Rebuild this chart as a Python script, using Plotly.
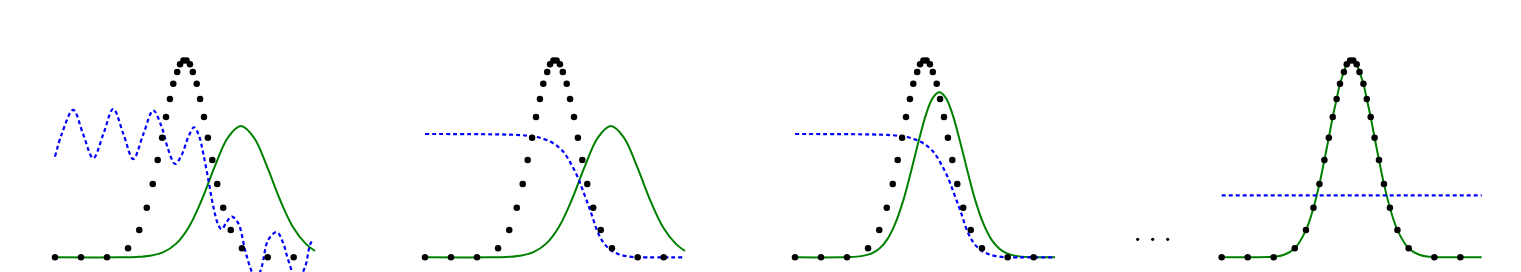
import plotly.graph_objects as go

# ---------------- data (x: 0..10 per panel, y: 0..1 target peak) ----------------
dot_x = [0, 1, 2, 2.81, 3.24, 3.53, 3.76, 3.95, 4.12, 4.27, 4.42, 4.55, 4.70, 4.81, 4.94,
         5.06, 5.19, 5.30, 5.45, 5.58, 5.73, 5.88, 6.05, 6.24, 6.47, 6.76, 7.19, 8.18, 9.18]
dot_y = [0, 0, 0, 0.046, 0.138, 0.251, 0.372, 0.493, 0.606, 0.711, 0.802, 0.880, 0.939, 0.978, 0.998,
         0.998, 0.978, 0.939, 0.880, 0.802, 0.711, 0.606, 0.493, 0.372, 0.251, 0.138, 0.046, 0, 0]

green_a_x = [0, 2.5, 3.15, 3.65, 4.15, 4.65, 5.15, 5.65, 6.15, 6.65, 7.15, 7.65, 8.15, 8.65, 9.15, 9.65, 10.0]
green_a_y = [0, 0.0, 0.002, 0.008, 0.025, 0.068, 0.154, 0.293, 0.462, 0.607, 0.665, 0.607, 0.462, 0.293, 0.154, 0.068, 0.032]

green_b_x = [0, 2.05, 2.55, 2.95, 3.25, 3.55, 3.85, 4.15, 4.45, 4.75, 5.05, 5.3, 5.55, 5.8, 6.05, 6.35,
             6.65, 6.95, 7.25, 7.55, 7.85, 8.15, 8.55, 9.05, 10]
green_b_y = [0, 0.001, 0.006, 0.020, 0.045, 0.091, 0.169, 0.282, 0.428, 0.586, 0.728, 0.808, 0.836, 0.808, 0.728, 0.586,
             0.428, 0.282, 0.169, 0.091, 0.045, 0.020, 0.006, 0.001, 0]

green_c_x = [0, 1, 2, 2.4, 2.81, 3.24, 3.53, 3.76, 3.95, 4.12, 4.27, 4.42, 4.55, 4.70, 4.81, 5.0,
             5.19, 5.30, 5.45, 5.58, 5.73, 5.88, 6.05, 6.24, 6.47, 6.76, 7.19, 7.6, 8.0, 9.0, 10.0]
green_c_y = [0, 0, 0.003, 0.013, 0.046, 0.138, 0.251, 0.372, 0.493, 0.606, 0.711, 0.802, 0.880, 0.939, 0.978, 1.0,
             0.978, 0.939, 0.880, 0.802, 0.711, 0.606, 0.493, 0.372, 0.251, 0.138, 0.046, 0.013, 0.003, 0, 0]

blue_wavy_x = [0, 0.26, 0.70, 1.08, 1.47, 1.86, 2.24, 2.63, 3.01, 3.40, 3.78, 4.10, 4.36, 4.62, 4.87, 5.13,
               5.35, 5.55, 5.70, 5.90, 6.09, 6.28, 6.41, 6.60, 6.80, 7.05, 7.31, 7.50, 7.73, 7.95, 8.20,
               8.53, 8.78, 8.97, 9.31, 9.62, 9.80, 9.93]
blue_wavy_y = [0.510, 0.625, 0.747, 0.625, 0.502, 0.625, 0.752, 0.625, 0.498, 0.625, 0.744, 0.662, 0.544, 0.473, 0.518, 0.611,
               0.659, 0.611, 0.527, 0.392, 0.256, 0.164, 0.142, 0.179, 0.206, 0.172, 0.037, -0.048, -0.115, -0.048, 0.088,
               0.128, 0.071, -0.014, -0.120, -0.048, 0.060, 0.095]

blue_step_x = [0, 3.4, 4.04, 4.42, 4.93, 5.32, 5.64, 5.90, 6.09, 6.28, 6.44, 6.62, 6.86, 7.14, 7.44, 7.88, 8.3, 10]
blue_step_y = [0.625, 0.621, 0.615, 0.606, 0.578, 0.535, 0.468, 0.398, 0.332, 0.265, 0.205, 0.135, 0.075, 0.037, 0.016, 0.003, 0, 0]

blue_flat_x = [0, 10]
blue_flat_y = [0.314, 0.314]

ellipsis_x = [-0.6, 0, 0.6]
ellipsis_y = [0.091, 0.091, 0.091]

# ---------------- layout constants ----------------
W, H = 1521, 272
XR = [-0.5, 10.5]
YR = [-0.0745, 1.304]
panel_left_px = [42, 412, 782, 1208.7]
panel_w_px = 286

GREEN = "#008000"
BLUE = "#0000ff"

panels = [
    (green_a_x, green_a_y, blue_wavy_x, blue_wavy_y),
    (green_a_x, green_a_y, blue_step_x, blue_step_y),
    (green_b_x, green_b_y, blue_step_x, blue_step_y),
    (green_c_x, green_c_y, blue_flat_x, blue_flat_y),
]

fig = go.Figure()
layout = dict(width=W, height=H, margin=dict(l=0, r=0, t=0, b=0),
              paper_bgcolor="white", plot_bgcolor="white", showlegend=False)

for i, (gx, gy, bx, by) in enumerate(panels):
    n = i + 1
    xa = "x" if n == 1 else f"x{n}"
    ya = "y" if n == 1 else f"y{n}"
    fig.add_trace(go.Scatter(x=gx, y=gy, mode="lines", xaxis=xa, yaxis=ya,
                             line=dict(color=GREEN, width=2, shape="spline", smoothing=1.0)))
    fig.add_trace(go.Scatter(x=bx, y=by, mode="lines", xaxis=xa, yaxis=ya,
                             line=dict(color=BLUE, width=2.2, dash="4px,3px", shape="spline", smoothing=1.0)))
    fig.add_trace(go.Scatter(x=dot_x, y=dot_y, mode="markers", xaxis=xa, yaxis=ya, cliponaxis=False,
                             marker=dict(color="black", size=6.5, line=dict(width=0))))
    d0 = panel_left_px[i] / W
    d1 = (panel_left_px[i] + panel_w_px) / W
    layout["xaxis" if n == 1 else f"xaxis{n}"] = dict(domain=[d0, d1], range=XR, visible=False,
                                                      anchor=ya)
    layout["yaxis" if n == 1 else f"yaxis{n}"] = dict(domain=[0, 1], range=YR, visible=False,
                                                      anchor=xa)

# ellipsis between panel 3 and 4
fig.add_trace(go.Scatter(x=ellipsis_x, y=ellipsis_y, mode="markers", xaxis="x5", yaxis="y5",
                         marker=dict(color="black", size=3.2, line=dict(width=0))))
layout["xaxis5"] = dict(domain=[1127.7 / W, 1177.7 / W], range=[-1, 1], visible=False, anchor="y5")
layout["yaxis5"] = dict(domain=[0, 1], range=YR, visible=False, anchor="x5")

fig.update_layout(**layout)
fig.write_html("out.html")
